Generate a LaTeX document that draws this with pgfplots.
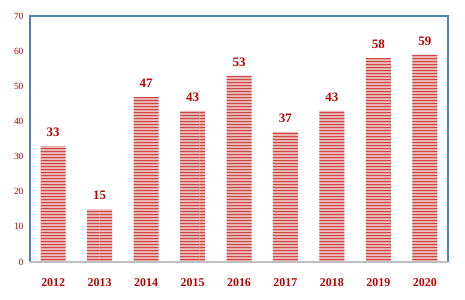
\documentclass[border=0pt]{standalone}
\usepackage{pgfplots}
\pgfplotsset{compat=1.18}
\usepackage{fontspec}
\setmainfont{Liberation Serif}
\usetikzlibrary{patterns}
\pgfdeclarepatternformonly{hlinesr}{\pgfpointorigin}{\pgfqpoint{100bp}{2.8bp}}{\pgfqpoint{100bp}{2.8bp}}{%
  \pgfsetlinewidth{1.1bp}%
  \pgfpathmoveto{\pgfqpoint{0bp}{1.4bp}}%
  \pgfpathlineto{\pgfqpoint{100.5bp}{1.4bp}}%
  \pgfusepath{stroke}%
}
\definecolor{dred}{RGB}{192,0,0}
\definecolor{bblue}{RGB}{79,129,189}
\definecolor{barline}{RGB}{205,70,70}
\definecolor{barbg}{RGB}{238,185,185}
\begin{document}
\begin{tikzpicture}[x=1bp,y=1bp]
\begin{axis}[
  scale only axis,
  width=418bp, height=246bp,
  xmin=-0.5, xmax=8.5,
  ymin=0, ymax=70,
  ytick={0,10,...,70},
  xtick={0,...,8},
  xticklabels={2012,2013,2014,2015,2016,2017,2018,2019,2020},
  major tick length=0pt,
  axis line style={draw=none},
  tick label style={text=dred},
  yticklabel style={font=\fontsize{9.5}{11}\selectfont, xshift=-3bp},
  xticklabel style={font=\fontsize{12}{14}\selectfont\bfseries, yshift=-13bp},
  /pgf/number format/assume math mode=true,
  ybar, bar width=25bp,
  nodes near coords,
  every node near coord/.append style={font=\fontsize{13}{15}\selectfont\bfseries, text=dred, yshift=6bp},
  clip=false,
]
\addplot[draw=none, fill=barbg, postaction={pattern=hlinesr, pattern color=barline}]
  coordinates {(0,33) (1,15) (2,47) (3,43) (4,53) (5,37) (6,43) (7,58) (8,59)};
\draw[bblue, line width=1.5bp] (rel axis cs:0,0) -- (rel axis cs:0,1) -- (rel axis cs:1,1) -- (rel axis cs:1,0);
\draw[black!25, line width=2.5bp] (rel axis cs:0,0) -- (rel axis cs:1,0);
\end{axis}
\path (current axis.south west) ++(-30bp,-38bp) (current axis.north east) ++(17bp,16bp);
\end{tikzpicture}
\end{document}
